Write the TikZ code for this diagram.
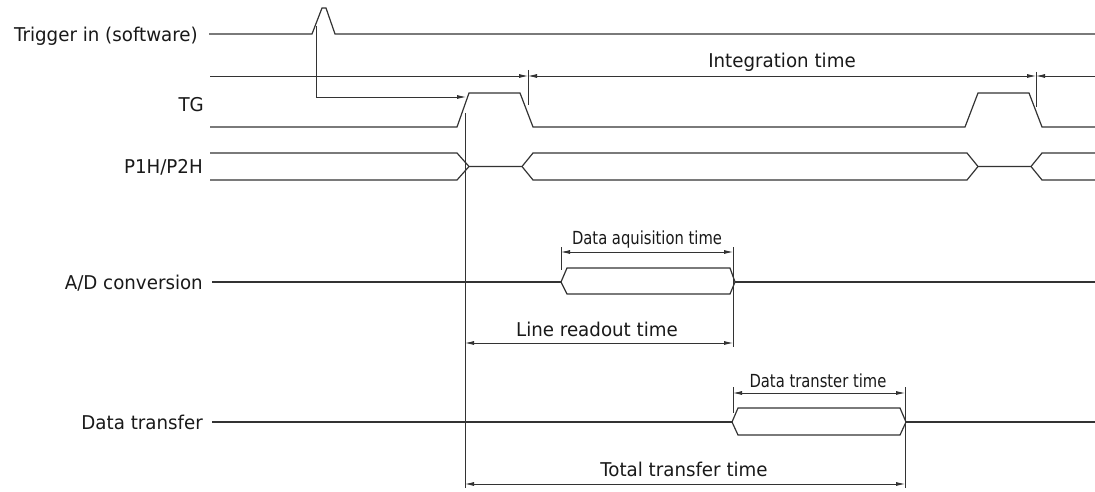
\documentclass[tikz,border=0pt]{standalone}
\usepackage{fontspec}
\setmainfont{DejaVu Sans}[FakeStretch=0.96]
\newfontfamily\narrowfont{DejaVu Sans}[FakeStretch=0.82]
\usetikzlibrary{arrows.meta}

\begin{document}
\begin{tikzpicture}[x=1pt,y=-1pt,
    signal/.style={line width=1.2pt,black!80},
    dimline/.style={line width=0.8pt,black!80},
    tip/.tip={Latex[length=9pt,width=4pt]},
    dimarrow/.style={dimline,tip-tip},
    siglabel/.style={anchor=base east,inner sep=0pt,text=black!90,font=\fontsize{19}{22}\selectfont},
    timelabel/.style={anchor=base,inner sep=0pt,text=black!90,font=\fontsize{19}{22}\selectfont},
    smalllabel/.style={anchor=base,inner sep=0pt,text=black!90,font=\narrowfont\fontsize{18}{21}\selectfont}]
    \useasboundingbox (0,0) rectangle (1095,492);

    % signal names
    \node[siglabel] (trig) at (198,41.5) {Trigger in (software)};
    \node[siglabel] (tg) at (204,112) {TG};
    \node[siglabel] (pxh) at (203,174) {P1H/P2H};
    \node[siglabel] (adc) at (203,289) {A/D conversion};
    \node[siglabel] (xfer) at (203,429) {Data transfer};

    % Trigger in (software)
    \draw[signal] (209,34) -- (312,34) -- (322,8) -- (326,8) -- (335,34) -- (1095,34);
    \draw[dimline,-tip] (316,26) -- (316,97) -- (466,97);

    % integration time
    \coordinate (int1) at (528,76);
    \coordinate (int2) at (1036,76);
    \draw[dimline,-tip] (210,76) -- (int1);
    \draw[dimarrow] (int1) -- (int2);
    \draw[dimline,tip-] (int2) -- (1095,76);
    \draw[dimline] (528,70) -- (528,105);
    \draw[dimline] (1036,72) -- (1036,107);
    \node[timelabel] (intlbl) at (782,68) {Integration time};

    % TG
    \draw[signal] (210,127) -- (457,127) -- (469,93) -- (520,93) -- (533,127) -- (965,127)
        -- (978,93) -- (1029,93) -- (1042,127) -- (1095,127);

    % P1H/P2H
    \draw[signal] (210,153) -- (457,153) -- (469,166.5) -- (522,166.5) -- (533,153) -- (967,153)
        -- (978,166.5) -- (1031,166.5) -- (1042,153) -- (1095,153);
    \draw[signal] (210,180) -- (457,180) -- (469,166.5) (522,166.5) -- (533,180) -- (967,180)
        -- (978,166.5) (1031,166.5) -- (1042,180) -- (1095,180);

    % readout start
    \draw[dimline] (465,113) -- (465,488);

    % A/D conversion
    \draw[signal] (212,282) -- (561,282);
    \draw[signal] (561,282) -- (567,268) -- (730,268) -- (735,282) -- (730,294) -- (567,294) -- cycle;
    \draw[signal] (735,282) -- (1095,282);

    % data aquisition time
    \coordinate (acq1) at (561,252);
    \coordinate (acq2) at (733,252);
    \draw[dimline] (561,247) -- (561,270);
    \draw[dimline] (733,247) -- (733,347);
    \draw[dimarrow] (acq1) -- (acq2);
    \node[smalllabel] (acqlbl) at (647,244) {Data aquisition time};

    % line readout time
    \coordinate (ro1) at (465,343);
    \coordinate (ro2) at (733,343);
    \draw[dimarrow] (ro1) -- (ro2);
    \node[timelabel] (rolbl) at (597,336) {Line readout time};

    % Data transfer
    \draw[signal] (212,422) -- (732,422);
    \draw[signal] (732,422) -- (738,408) -- (900,408) -- (906,422) -- (900,435) -- (738,435) -- cycle;
    \draw[signal] (906,422) -- (1095,422);

    % data transfer time
    \coordinate (dt1) at (733,393);
    \coordinate (dt2) at (905,393);
    \draw[dimline] (733,387) -- (733,413);
    \draw[dimline] (905,387) -- (905,488);
    \draw[dimarrow] (dt1) -- (dt2);
    \node[smalllabel] (dtlbl) at (818,387) {Data transter time};

    % total transfer time
    \coordinate (tt1) at (465,484);
    \coordinate (tt2) at (905,484);
    \draw[dimarrow] (tt1) -- (tt2);
    \node[timelabel] (ttlbl) at (684,476) {Total transfer time};
\end{tikzpicture}
\end{document}
